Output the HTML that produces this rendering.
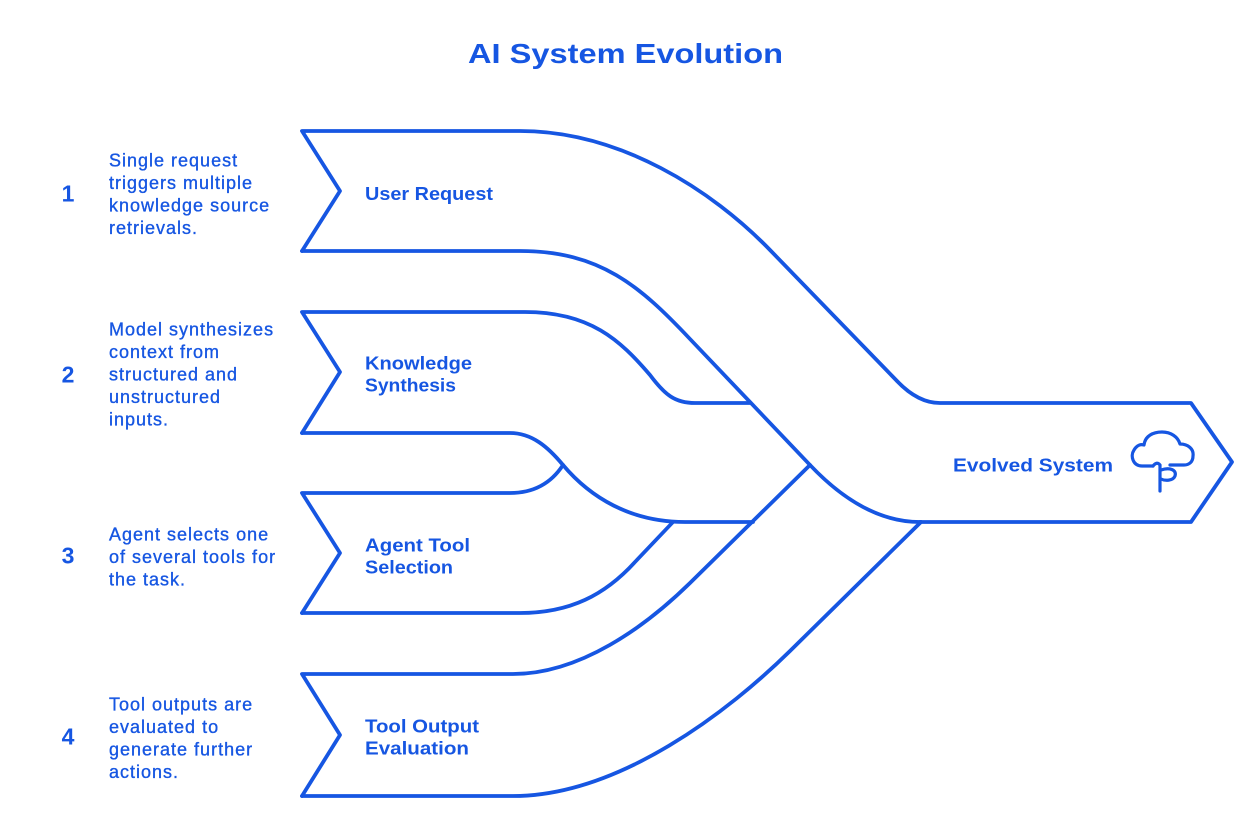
<!DOCTYPE html>
<html>
<head>
<meta charset="utf-8">
<style>
  html, body { margin: 0; padding: 0; background: #ffffff; }
  body { width: 1253px; height: 838px; overflow: hidden; }
  svg { display: block; }
  .ln { fill: none; stroke: #1656e2; stroke-width: 3.8; stroke-linejoin: round; stroke-linecap: round; }
  .title { font-family: "Liberation Sans", sans-serif; font-weight: bold; font-size: 28px; fill: #1656e2; }
  .num { font-family: "Liberation Sans", sans-serif; font-weight: bold; font-size: 23px; fill: #1656e2; }
  .desc { font-family: "Liberation Sans", sans-serif; font-size: 18px; fill: #1656e2; stroke: #1656e2; stroke-width: 0.35px; letter-spacing: 1px; }
  .lab { font-family: "Liberation Sans", sans-serif; font-weight: bold; font-size: 18px; fill: #1656e2; }
</style>
</head>
<body>
<svg width="1253" height="838" viewBox="0 0 1253 838" xmlns="http://www.w3.org/2000/svg">
  <!-- Title -->
  <text class="title" x="468" y="63" textLength="315" lengthAdjust="spacingAndGlyphs">AI System Evolution</text>

  <!-- Band 1: User Request -->
  <path class="ln" d="M 302,251 L 340,191 L 302,131 L 520,131 C 620,131 712,190 770,250 L 897,381 Q 918,403 940,403 L 1191,403 L 1232,462 L 1191,522 L 920,522"/>
  <path class="ln" d="M 302,251 L 520,251 C 600,251 640,286 690,339 L 810,465 Q 864,522 920,522"/>

  <!-- Band 2: Knowledge Synthesis -->
  <path class="ln" d="M 302,433 L 340,372 L 302,312 L 525,312 C 590,312 620,340 650,375 C 665,395 675,403 695,403 L 750,403"/>
  <path class="ln" d="M 302,433 L 510,433 C 532,433 548,447 563,465 C 590,497 630,522 685,522 L 753,522"/>

  <!-- Band 3: Agent Tool Selection -->
  <path class="ln" d="M 302,613 L 340,553 L 302,493 L 510,493 C 532,493 550,485 563,465"/>
  <path class="ln" d="M 302,613 L 520,613 C 570,613 605,595 635,562 L 673,522"/>

  <!-- Band 4: Tool Output Evaluation -->
  <path class="ln" d="M 302,796 L 340,735 L 302,674 L 513,674 C 580,674 645,627 690,583 L 810,465"/>
  <path class="ln" d="M 302,796 L 513,796 C 620,796 730,710 790,651 L 921,522"/>

  <!-- Cloud icon -->
  <path class="ln" style="stroke-width:3.2" d="M 1153,466 L 1142,466 C 1133,466 1130,456 1134,450 C 1137,445 1141,444 1144,445 C 1145,436 1153,432 1162,432 C 1171,432 1178,437 1180,444 C 1188,444 1194,449 1193,456 C 1193,462 1189,465 1184,465 L 1170,465"/>
  <path class="ln" style="stroke-width:3.2" d="M 1153,466 Q 1157,461 1160,465"/>
  <path class="ln" style="stroke-width:3.2" d="M 1160,466 L 1160,491"/>
  <path class="ln" style="stroke-width:3.2" d="M 1161,470 C 1170,467 1177,470 1175,476 C 1173,481 1165,481 1161,479"/>

  <!-- Numbers -->
  <text class="num" x="68" y="201.5" text-anchor="middle">1</text>
  <text class="num" x="68" y="382.5" text-anchor="middle">2</text>
  <text class="num" x="68" y="563.5" text-anchor="middle">3</text>
  <text class="num" x="68" y="744.5" text-anchor="middle">4</text>

  <!-- Descriptions -->
  <text class="desc" x="109" y="166.5">Single request</text>
  <text class="desc" x="109" y="189">triggers multiple</text>
  <text class="desc" x="109" y="211.5">knowledge source</text>
  <text class="desc" x="109" y="234">retrievals.</text>

  <text class="desc" x="109" y="335.5">Model synthesizes</text>
  <text class="desc" x="109" y="358">context from</text>
  <text class="desc" x="109" y="380.5">structured and</text>
  <text class="desc" x="109" y="403">unstructured</text>
  <text class="desc" x="109" y="425.5">inputs.</text>

  <text class="desc" x="109" y="540.5">Agent selects one</text>
  <text class="desc" x="109" y="563">of several tools for</text>
  <text class="desc" x="109" y="585.5">the task.</text>

  <text class="desc" x="109" y="710.5">Tool outputs are</text>
  <text class="desc" x="109" y="733">evaluated to</text>
  <text class="desc" x="109" y="755.5">generate further</text>
  <text class="desc" x="109" y="778">actions.</text>

  <!-- Band labels -->
  <text class="lab" x="365" y="200" textLength="128" lengthAdjust="spacingAndGlyphs">User Request</text>
  <text class="lab" x="365" y="369.5" textLength="107" lengthAdjust="spacingAndGlyphs">Knowledge</text>
  <text class="lab" x="365" y="391.5" textLength="91" lengthAdjust="spacingAndGlyphs">Synthesis</text>
  <text class="lab" x="365" y="551.5" textLength="105" lengthAdjust="spacingAndGlyphs">Agent Tool</text>
  <text class="lab" x="365" y="573.5" textLength="88" lengthAdjust="spacingAndGlyphs">Selection</text>
  <text class="lab" x="365" y="732.5" textLength="114" lengthAdjust="spacingAndGlyphs">Tool Output</text>
  <text class="lab" x="365" y="754.5" textLength="104" lengthAdjust="spacingAndGlyphs">Evaluation</text>
  <text class="lab" x="953" y="471.5" textLength="160" lengthAdjust="spacingAndGlyphs">Evolved System</text>
</svg>
</body>
</html>
